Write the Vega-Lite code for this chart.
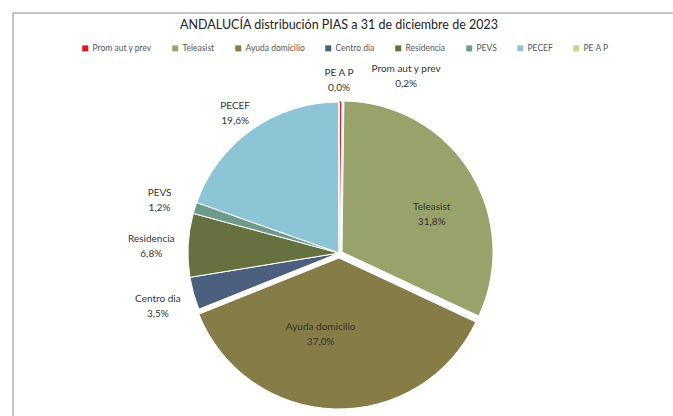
{
  "$schema": "https://vega.github.io/schema/vega-lite/v6.json",
  "width": 680,
  "height": 480,
  "padding": {"left": 12, "top": 12, "right": 0, "bottom": 0},
  "autosize": {"type": "pad"},
  "background": "#ffffff",
  "config": {
    "view": {"stroke": "#8c8c8c", "strokeWidth": 1},
    "font": "Lato"
  },
  "title": {
    "text": "ANDALUCÍA distribución PIAS a 31 de diciembre de 2023",
    "font": "Lato",
    "fontSize": 12.5,
    "fontWeight": "normal",
    "color": "#222222",
    "anchor": "middle",
    "offset": -19,
    "dx": -14
  },
  "data": {
    "values": [
      {"ord": 1, "name": "Prom aut y prev", "value": 0.2, "label": "Prom aut y prev\n0,2%"},
      {"ord": 2, "name": "Teleasist", "value": 31.8, "label": "Teleasist\n31,8%"},
      {"ord": 3, "name": "Ayuda domicilio", "value": 37.0, "label": "Ayuda domicilio\n37,0%"},
      {"ord": 4, "name": "Centro dia", "value": 3.5, "label": "Centro dia\n3,5%"},
      {"ord": 5, "name": "Residencia", "value": 6.8, "label": "Residencia\n6,8%"},
      {"ord": 6, "name": "PEVS", "value": 1.2, "label": "PEVS\n1,2%"},
      {"ord": 7, "name": "PECEF", "value": 19.6, "label": "PECEF\n19,6%"},
      {"ord": 8, "name": "PE A P", "value": 0.0, "label": "PE A P\n0,0%"}
    ]
  },
  "layer": [
    {
      "data": {"values": [{"frame": 1}]},
      "mark": {"type": "rect", "fill": null, "fillOpacity": 0, "stroke": "#8c8c8c", "strokeWidth": 1},
      "encoding": {}
    },
    {
      "encoding": {
        "theta": {"field": "value", "type": "quantitative", "stack": true},
        "order": {"field": "ord", "type": "quantitative"},
        "color": {
          "field": "name",
          "type": "nominal",
          "scale": {
            "domain": ["Prom aut y prev", "Teleasist", "Ayuda domicilio", "Centro dia", "Residencia", "PEVS", "PECEF", "PE A P"],
            "range": ["#e0121c", "#98a26b", "#857c47", "#4c5f7e", "#67703f", "#6e9a8a", "#8dc4d6", "#c9d28e"]
          },
          "legend": {
            "title": null,
            "orient": "none",
            "direction": "horizontal",
            "columns": 8,
            "columnPadding": 19,
            "legendX": 68,
            "legendY": 31,
            "symbolType": "square",
            "symbolSize": 36,
            "symbolStrokeWidth": 0,
            "labelFont": "Lato",
            "labelFontSize": 8.5,
            "labelColor": "#555555",
            "labelOffset": 3
          }
        }
      },
      "layer": [
        {
          "mark": {"type": "arc", "outerRadius": 151, "strokeWidth": 1, "xOffset": -14},
          "encoding": {
            "stroke": {"condition": {"test": "datum.name === 'Prom aut y prev'", "value": "#e0121c"}, "value": "#ffffff"},
            "opacity": {"condition": {"test": "datum.name === 'Teleasist' || datum.name === 'Ayuda domicilio'", "value": 0}, "value": 1}
          }
        },
        {
          "mark": {"type": "arc", "outerRadius": 151, "stroke": "#ffffff", "strokeWidth": 1, "xOffset": -11, "yOffset": -1},
          "encoding": {
            "opacity": {"condition": {"test": "datum.name === 'Teleasist'", "value": 1}, "value": 0}
          }
        },
        {
          "mark": {"type": "arc", "outerRadius": 151, "stroke": "#ffffff", "strokeWidth": 1, "xOffset": -14, "yOffset": 5},
          "encoding": {
            "opacity": {"condition": {"test": "datum.name === 'Ayuda domicilio'", "value": 1}, "value": 0}
          }
        },
        {
          "mark": {"type": "text", "radius": 188, "xOffset": -14, "yOffset": -4, "font": "Lato", "fontSize": 10, "lineBreak": "\n", "lineHeight": 15, "align": "center", "baseline": "middle"},
          "encoding": {
            "text": {"field": "label"},
            "color": {"value": "#333333"},
            "detail": {"field": "name"},
            "opacity": {"condition": {"test": "indexof(['Centro dia','Residencia','PEVS'], datum.name) >= 0", "value": 1}, "value": 0}
          }
        },
        {
          "mark": {"type": "text", "radius": 180, "xOffset": -14, "yOffset": 0, "font": "Lato", "fontSize": 10, "lineBreak": "\n", "lineHeight": 15, "align": "center", "baseline": "middle"},
          "encoding": {
            "text": {"field": "label"},
            "color": {"value": "#333333"},
            "detail": {"field": "name"},
            "opacity": {"condition": {"test": "indexof(['PECEF','PE A P'], datum.name) >= 0", "value": 1}, "value": 0}
          }
        },
        {
          "mark": {"type": "text", "radius": 100, "xOffset": -6, "yOffset": 7, "font": "Lato", "fontSize": 10, "lineBreak": "\n", "lineHeight": 15, "align": "center", "baseline": "middle"},
          "encoding": {
            "text": {"field": "label"},
            "color": {"value": "#333333"},
            "detail": {"field": "name"},
            "opacity": {"condition": {"test": "datum.name === 'Teleasist'", "value": 1}, "value": 0}
          }
        },
        {
          "mark": {"type": "text", "radius": 82, "xOffset": -30, "yOffset": -8, "font": "Lato", "fontSize": 10, "lineBreak": "\n", "lineHeight": 15, "align": "center", "baseline": "middle"},
          "encoding": {
            "text": {"field": "label"},
            "color": {"value": "#333333"},
            "detail": {"field": "name"},
            "opacity": {"condition": {"test": "datum.name === 'Ayuda domicilio'", "value": 1}, "value": 0}
          }
        },
        {
          "mark": {"type": "text", "radius": 179, "xOffset": 52, "yOffset": -5, "font": "Lato", "fontSize": 10, "lineBreak": "\n", "lineHeight": 15, "align": "center", "baseline": "middle"},
          "encoding": {
            "text": {"field": "label"},
            "color": {"value": "#333333"},
            "detail": {"field": "name"},
            "opacity": {"condition": {"test": "datum.name === 'Prom aut y prev'", "value": 1}, "value": 0}
          }
        }
      ]
    }
  ]
}
